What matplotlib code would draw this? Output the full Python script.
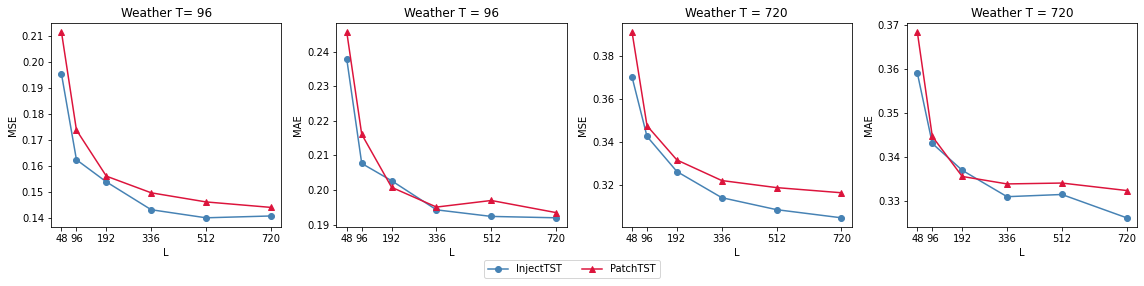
import matplotlib
matplotlib.use("Agg")
import matplotlib.pyplot as plt

lookback = [48, 96, 192, 336, 512, 720]
titles = ["Weather T= 96", "Weather T = 96", "Weather T = 720", "Weather T = 720"]
ylabels = ["MSE", "MAE", "MSE", "MAE"]

inject_mse_96 = [0.1953, 0.1624, 0.1539, 0.1432, 0.1401, 0.1408]
patch_mse_96 = [0.2114, 0.1738, 0.1561, 0.1497, 0.1462, 0.1441]
inject_mae_96 = [0.2378, 0.2077, 0.2027, 0.1943, 0.1924, 0.1920]
patch_mae_96 = [0.2456, 0.2161, 0.2008, 0.1951, 0.1970, 0.1935]
inject_mse_720 = [0.3702, 0.3425, 0.3261, 0.3139, 0.3083, 0.3045]
patch_mse_720 = [0.3912, 0.3475, 0.3315, 0.3219, 0.3186, 0.3162]
inject_mae_720 = [0.3591, 0.3431, 0.3370, 0.3310, 0.3315, 0.3262]
patch_mae_720 = [0.3684, 0.3447, 0.3356, 0.3339, 0.3341, 0.3324]

inject_all = [inject_mse_96, inject_mae_96, inject_mse_720, inject_mae_720]
patch_all = [patch_mse_96, patch_mae_96, patch_mse_720, patch_mae_720]

# drawn at 72 dpi so the default 10pt text comes out at ~10px like the reference
fig, axes = plt.subplots(1, 4, figsize=(1144 / 72, 286 / 72), dpi=72)
for i, ax in enumerate(axes):
    ax.plot(lookback, inject_all[i], color="steelblue", marker="o", markersize=6, label="InjectTST")
    ax.plot(lookback, patch_all[i], color="crimson", marker="^", markersize=6, label="PatchTST")
    ax.set_xticks(lookback)
    ax.set_title(titles[i])
    ax.set_xlabel("L")
    ax.set_ylabel(ylabels[i])

handles, labels = axes[0].get_legend_handles_labels()
fig.legend(handles, labels, loc="center", ncol=2, bbox_to_anchor=(0.5, 0.058))
plt.subplots_adjust(left=0.0446, right=0.994, top=0.92, bottom=0.206, wspace=0.239)
plt.savefig("out.png", dpi=72)
